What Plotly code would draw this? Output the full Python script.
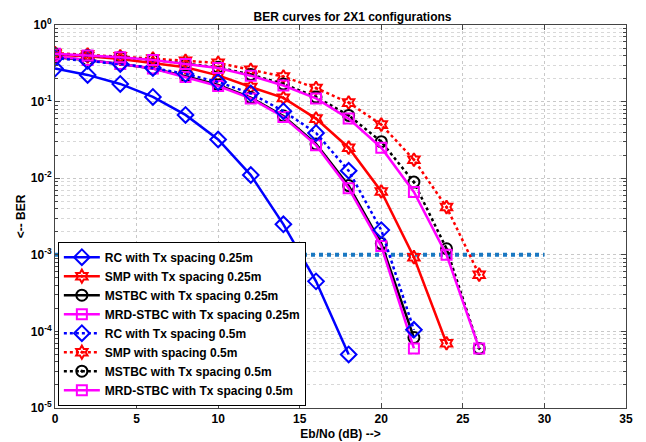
import plotly.graph_objects as go

snr_rc25 = [0, 2, 4, 6, 8, 10, 12, 14, 16, 18]
ber_rc25 = [0.27, 0.223, 0.17, 0.115, 0.067, 0.032, 0.011, 0.0025, 4.5e-4, 5e-5]

snr_smp25 = [0, 2, 4, 6, 8, 10, 12, 14, 16, 18, 20, 22, 24]
ber_smp25 = [0.41, 0.39, 0.36, 0.32, 0.28, 0.22, 0.155, 0.112, 0.06, 0.025, 0.0067, 9.3e-4, 7e-5]

snr_mstbc25 = [0, 2, 4, 6, 8, 10, 12, 14, 16, 18, 20, 22]
ber_mstbc25 = [0.38, 0.35, 0.31, 0.27, 0.215, 0.165, 0.113, 0.065, 0.028, 0.008, 0.0014, 8.3e-5]

snr_mrd25 = [0, 2, 4, 6, 8, 10, 12, 14, 16, 18, 20, 22]
ber_mrd25 = [0.39, 0.35, 0.31, 0.27, 0.21, 0.16, 0.11, 0.063, 0.027, 0.0074, 0.0013, 6e-5]

snr_rc5 = [0, 2, 4, 6, 8, 10, 12, 14, 16, 18, 20, 22]
ber_rc5 = [0.37, 0.34, 0.31, 0.275, 0.23, 0.18, 0.128, 0.075, 0.039, 0.0125, 0.0021, 1.05e-4]

snr_smp5 = [0, 2, 4, 6, 8, 10, 12, 14, 16, 18, 20, 22, 24, 26]
ber_smp5 = [0.43, 0.41, 0.39, 0.365, 0.34, 0.32, 0.26, 0.212, 0.15, 0.097, 0.05, 0.0174, 0.0042, 5.5e-4]

snr_mstbc5 = [0, 2, 4, 6, 8, 10, 12, 14, 16, 18, 20, 22, 24, 26]
ber_mstbc5 = [0.42, 0.40, 0.38, 0.35, 0.31, 0.28, 0.225, 0.17, 0.115, 0.066, 0.03, 0.0089, 0.0012, 6e-5]

snr_mrd5 = [0, 2, 4, 6, 8, 10, 12, 14, 16, 18, 20, 22, 24, 26]
ber_mrd5 = [0.42, 0.40, 0.38, 0.35, 0.31, 0.275, 0.218, 0.162, 0.11, 0.06, 0.025, 0.0066, 0.001, 6e-5]

thr_x = [0, 30]
thr_y = [1e-3, 1e-3]

names = [
    "RC with Tx spacing 0.25m",
    "SMP with Tx spacing 0.25m",
    "MSTBC with Tx spacing 0.25m",
    "MRD-STBC with Tx spacing 0.25m",
    "RC with Tx spacing 0.5m",
    "SMP with spacing 0.5m",
    "MSTBC with Tx spacing 0.5m",
    "MRD-STBC with Tx spacing 0.5m",
]

ytick_vals = [1e-5, 1e-4, 1e-3, 1e-2, 1e-1, 1]
ytick_text = ["10<sup>-5</sup>", "10<sup>-4</sup>", "10<sup>-3</sup>", "10<sup>-2</sup>",
              "10<sup>-1</sup>", "10<sup>0</sup>"]
minor_vals = [m * 10.0 ** e for e in range(-5, 0) for m in range(2, 10)]

BLUE = "#0000FF"
RED = "#FF0000"
BLACK = "#000000"
MAG = "#FF00FF"

series = [
    (snr_rc25, ber_rc25, BLUE, "solid", "diamond-open", 12),
    (snr_smp25, ber_smp25, RED, "solid", "hexagram-open-dot", 10),
    (snr_mstbc25, ber_mstbc25, BLACK, "solid", "circle-open", 11),
    (snr_mrd25, ber_mrd25, MAG, "solid", "square-open", 10),
    (snr_rc5, ber_rc5, BLUE, "dot", "diamond-open", 12),
    (snr_smp5, ber_smp5, RED, "dot", "hexagram-open-dot", 10),
    (snr_mstbc5, ber_mstbc5, BLACK, "dot", "circle-open-dot", 11),
    (snr_mrd5, ber_mrd5, MAG, "solid", "square-open", 10),
]

fig = go.Figure()

fig.add_trace(go.Scatter(
    x=thr_x, y=thr_y, mode="lines", showlegend=False,
    line=dict(color="#1a78c2", width=4, dash="dot"),
))

for (xs, ys, col, dash, sym, sz), nm in zip(series, names):
    fig.add_trace(go.Scatter(
        x=xs, y=ys, mode="lines+markers", name=nm,
        line=dict(color=col, width=2.5, dash=dash),
        marker=dict(symbol=sym, size=sz, color=col, line=dict(color=col, width=2)),
    ))

font_fam = "Liberation Sans, Arial, sans-serif"

# the page body has an 8px margin, so the figure is sized to fit inside the window
fig.update_layout(
    width=638, height=434,
    margin=dict(l=47, r=20, t=17, b=34),
    paper_bgcolor="white", plot_bgcolor="white",
    font=dict(family=font_fam, size=12, color="black", weight="bold"),
    title=dict(text="BER curves for 2X1 configurations", x=0.54, xanchor="center",
               y=0.99, yanchor="top",
               font=dict(family=font_fam, size=12, color="black", weight="bold")),
    legend=dict(x=0.005, y=0.006, xanchor="left", yanchor="bottom",
                bgcolor="white", bordercolor="black", borderwidth=1,
                font=dict(family=font_fam, size=12, color="black", weight="bold"),
                tracegroupgap=0, itemwidth=36),
    xaxis=dict(
        range=[0, 35], dtick=5, tick0=0, automargin=False,
        showline=True, linecolor="#444", linewidth=1, mirror="ticks",
        ticks="inside", ticklen=5, tickcolor="#444",
        showgrid=True, gridcolor="#c8c8c8", griddash="dot", gridwidth=1,
        zeroline=False,
        title=dict(text="Eb/No (dB) -->", standoff=4,
                   font=dict(family=font_fam, size=12, color="black", weight="bold")),
        tickfont=dict(family=font_fam, size=12, color="black", weight="bold"),
    ),
    yaxis=dict(
        type="log", range=[-5, 0], automargin=False,
        tickvals=ytick_vals, ticktext=ytick_text,
        showline=True, linecolor="#444", linewidth=1, mirror="ticks",
        ticks="inside", ticklen=5, tickcolor="#444",
        showgrid=True, gridcolor="#c8c8c8", griddash="dot", gridwidth=1,
        zeroline=False,
        minor=dict(tickvals=minor_vals, showgrid=True, gridcolor="#d8d8d8",
                   griddash="dot", gridwidth=1, ticks="inside", ticklen=3,
                   tickcolor="#444"),
        title=dict(text="<-- BER", standoff=2,
                   font=dict(family=font_fam, size=12, color="black", weight="bold")),
        tickfont=dict(family=font_fam, size=12, color="black", weight="bold"),
    ),
)

fig.write_html("out.html")
